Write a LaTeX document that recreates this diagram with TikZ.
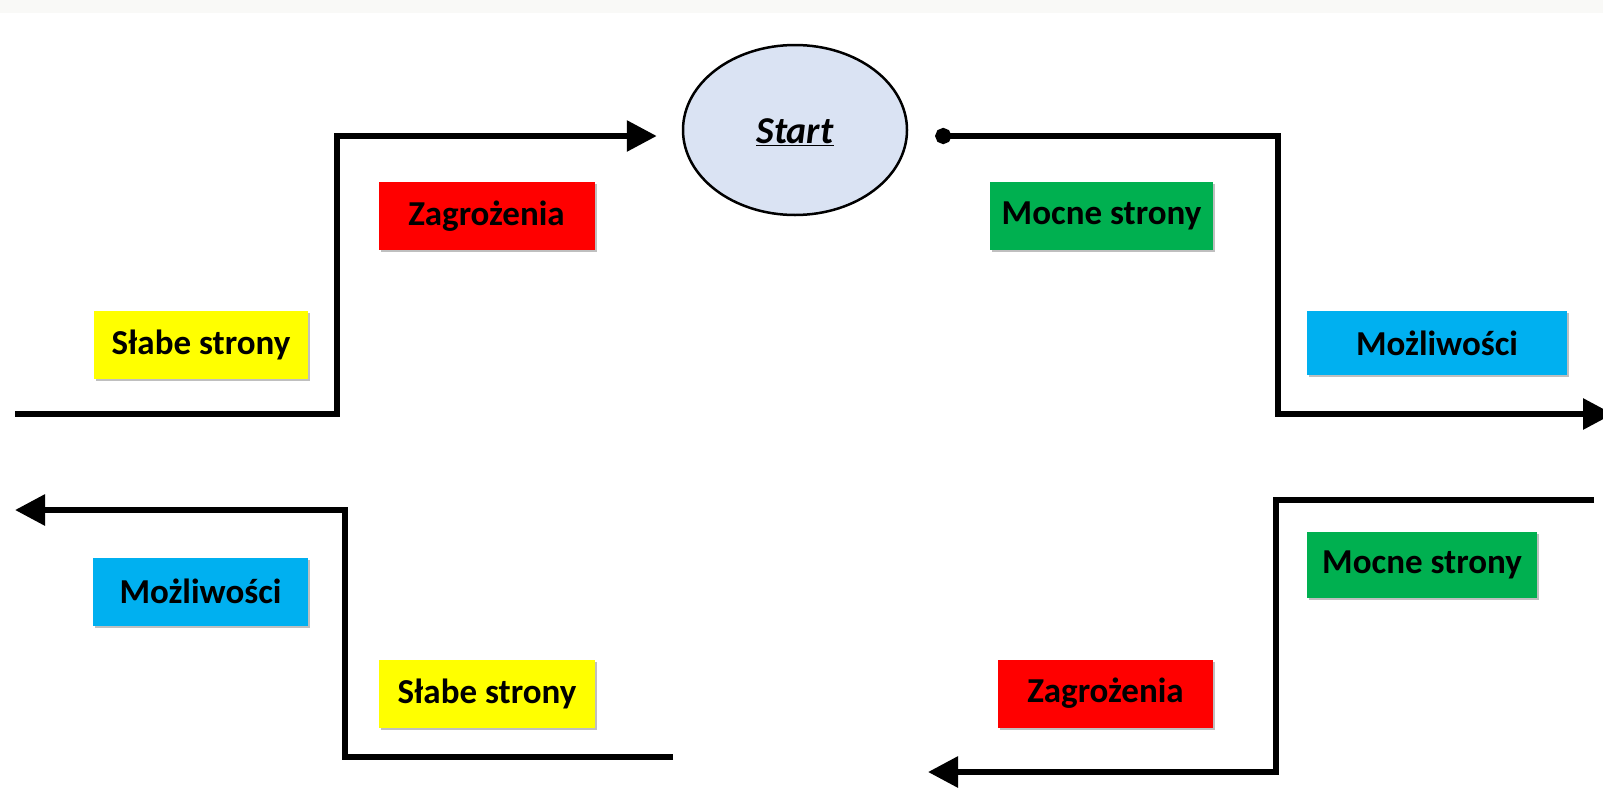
\documentclass[tikz,border=0pt]{standalone}
\usepackage{fontspec}
\setmainfont{Carlito}
\usetikzlibrary{arrows.meta,shapes.geometric,shadows}

\definecolor{startfill}{HTML}{DAE3F3}
\definecolor{topband}{HTML}{F9F9F7}
\definecolor{swotred}{HTML}{FF0000}
\definecolor{swotyellow}{HTML}{FFFF00}
\definecolor{swotgreen}{HTML}{00B050}
\definecolor{swotblue}{HTML}{00B0F0}

\begin{document}
\begin{tikzpicture}[x=1pt,y=-1pt]
      \tikzstyle{flow}=[draw=black, line width=6pt, -{Triangle[length=30pt,width=30pt]}]
      \tikzstyle{field}=[rectangle, inner sep=0pt, minimum width=216pt, minimum height=68pt,
            font=\fontsize{35}{40}\selectfont\bfseries,
            drop shadow={shadow xshift=2pt, shadow yshift=-2pt, fill=black, opacity=0.25}]
      \tikzstyle{threat field}=[field, fill=swotred];
      \tikzstyle{weak field}=[field, fill=swotyellow];
      \tikzstyle{strong field}=[field, fill=swotgreen];
      \tikzstyle{chance field}=[field, fill=swotblue];

      % Page size and the grey strip on top
      \useasboundingbox (0,0) rectangle (1603,809);
      \fill[topband] (0,0) rectangle (1603,13);

      % Draw the start node
      \node[ellipse, draw, line width=2.5pt, fill=startfill, minimum width=224pt,
            minimum height=170pt, font=\fontsize{38}{44}\selectfont\bfseries] (Start) at (795,130)
            {\raisebox{-13.5pt}[0pt][0pt]{\underline{\textit{Start}}}};

      % Draw the label boxes
      \node[threat field] (Z-TOP) at (486.5,216) {Zagrożenia};
      \node[weak field, minimum width=214pt] (S-TOP) at (201,344.5) {Słabe strony};
      \node[strong field, minimum width=223pt] (M-TOP) at (1101.5,216) {Mocne strony};
      \node[chance field, minimum width=260pt, minimum height=64pt] (P-RIGHT) at (1437,343) {Możliwości};
      \node[strong field, minimum width=230pt, minimum height=66pt] (M-BOT) at (1422,565) {Mocne strony};
      \node[threat field, minimum width=215pt] (Z-BOT) at (1105.5,693.5) {Zagrożenia};
      \node[chance field, minimum width=215pt] (P-LEFT) at (200.5,591.5) {Możliwości};
      \node[weak field] (S-BOT) at (487,693.5) {Słabe strony};

      % Corner points of the four routes
      \coordinate (A-in) at (15,414);
      \coordinate (A-1) at (337,414);
      \coordinate (A-2) at (337,136);
      \coordinate (B-1) at (1278,136);
      \coordinate (B-2) at (1278,414);
      \coordinate (B-out) at (1613,414);
      \coordinate (C-in) at (1594,500);
      \coordinate (C-1) at (1276,500);
      \coordinate (C-2) at (1276,772);
      \coordinate (C-out) at (928,772);
      \coordinate (D-in) at (673,757);
      \coordinate (D-1) at (345,757);
      \coordinate (D-2) at (345,510);
      \coordinate (D-out) at (15,510);

      % Routes into and out of the start
      \draw[flow, shorten >=25pt] (A-in) -- (A-1) -- (A-2) -- ([yshift=-6pt]Start.west);
      \draw[flow, {Circle[length=16pt]}-{Triangle[length=30pt,width=30pt]}, shorten <=27pt]
            ([yshift=-6pt]Start.east) -- (B-1) -- (B-2) -- (B-out);

      % Lower routes
      \draw[flow] (C-in) -- (C-1) -- (C-2) -- (C-out);
      \draw[flow] (D-in) -- (D-1) -- (D-2) -- (D-out);
\end{tikzpicture}
\end{document}
